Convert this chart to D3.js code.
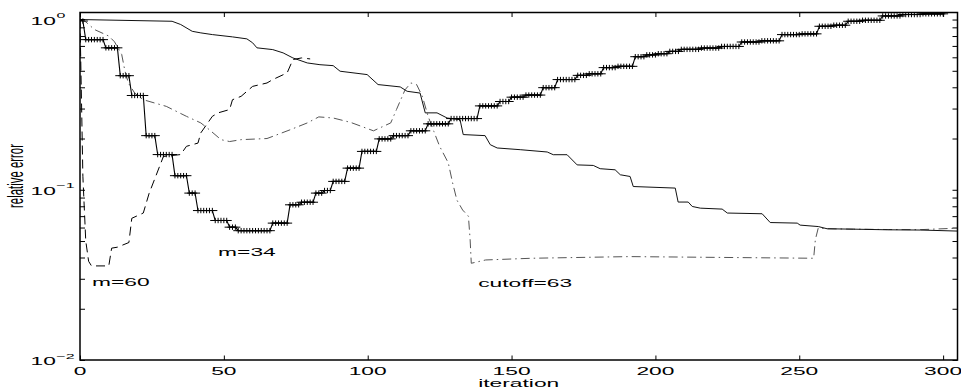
<!DOCTYPE html>
<html>
<head>
<meta charset="utf-8">
<script src="https://d3js.org/d3.v7.min.js"></script>
<style>
  body { margin: 0; background: #fff; }
  text { font-family: "Liberation Sans", Arial, sans-serif; fill: #000; }
  .tick line { stroke: #000; stroke-width: 1; }
</style>
</head>
<body>
<script>

// solid line, no markers
var fullIter = [0, 32, 35, 39, 42, 46, 53, 58, 60, 61.5, 67, 70.6, 74, 79, 83.4, 88, 90.4, 99.8, 103.6, 111.3, 113.7, 118.2, 120, 124.1, 127.6, 132.1, 133.2, 140.8, 142.6, 145, 153, 162.4, 164.5, 169.3, 172.8, 178.4, 180.8, 186, 187.8, 191.2, 192.3, 206.9, 207.9, 211.4, 212.8, 215.6, 223.2, 225, 237.1, 239.9, 249.3, 250.3, 256.6, 259.7, 268.8, 280.6, 292.1, 305];
var fullErr = [1.0, 0.977, 0.935, 0.853, 0.835, 0.816, 0.791, 0.770, 0.730, 0.682, 0.666, 0.637, 0.595, 0.556, 0.543, 0.536, 0.497, 0.475, 0.415, 0.402, 0.379, 0.370, 0.283, 0.283, 0.264, 0.258, 0.211, 0.208, 0.184, 0.176, 0.172, 0.1667, 0.1607, 0.1607, 0.140, 0.139, 0.133, 0.131, 0.1225, 0.1197, 0.1045, 0.1023, 0.0847, 0.0847, 0.0798, 0.078, 0.077, 0.073, 0.0723, 0.0642, 0.0637, 0.062, 0.0608, 0.059, 0.0587, 0.0582, 0.058, 0.0572];

// m=34 line with + markers, given as plateaus (first iteration, value)
var m34Start = [0, 1, 2, 9, 14, 18, 23, 27, 33, 38, 41, 47, 52, 55, 67, 73, 77, 82, 85, 88, 93, 98, 104, 109, 115, 121, 129, 139, 146, 150, 155, 161, 166, 173, 177, 182, 187, 193, 197, 201, 205, 209, 216, 223, 230, 237, 244, 251, 257, 262, 267, 272, 279, 286, 293];
var m34Err = [1.0, 0.98, 0.762, 0.682, 0.468, 0.358, 0.208, 0.161, 0.121, 0.0956, 0.0755, 0.066, 0.0603, 0.0575, 0.0637, 0.0816, 0.0845, 0.0956, 0.099, 0.112, 0.134, 0.168, 0.199, 0.208, 0.222, 0.244, 0.262, 0.311, 0.33, 0.35, 0.36, 0.398, 0.444, 0.47, 0.48, 0.522, 0.531, 0.605, 0.62, 0.63, 0.65, 0.668, 0.68, 0.695, 0.738, 0.75, 0.816, 0.824, 0.913, 0.926, 0.977, 0.99, 1.05, 1.07, 1.08];
var m34Last = 300;

// m=60, dashed
var m60Iter = [0, 1, 2, 3, 4, 10, 11, 13, 17, 18, 22, 24, 29, 35, 37, 41, 42, 46, 48, 52, 53, 56, 60, 65, 67, 72, 74, 77, 80];
var m60Err = [1.0, 0.12, 0.05, 0.038, 0.0357, 0.0357, 0.0454, 0.046, 0.049, 0.068, 0.073, 0.095, 0.157, 0.161, 0.18, 0.188, 0.216, 0.27, 0.283, 0.296, 0.338, 0.354, 0.405, 0.424, 0.444, 0.486, 0.582, 0.595, 0.587];

// cutoff=63, dash-dot
var cutIter = [0, 2, 5, 10, 12, 14.5, 15.6, 16.8, 19, 22, 30, 37, 42, 45, 49, 52, 56, 65, 73, 79, 83, 88, 94, 102, 108, 110, 113, 115, 117, 119, 121, 123, 125, 128, 129.5, 131, 133, 135, 135.6, 136, 141, 157, 191, 255, 255.6, 256.6, 260, 269, 281, 292, 305];
var cutErr = [1.0, 0.97, 0.874, 0.80, 0.74, 0.623, 0.50, 0.424, 0.37, 0.338, 0.309, 0.27, 0.247, 0.225, 0.197, 0.192, 0.197, 0.2, 0.225, 0.247, 0.268, 0.264, 0.249, 0.222, 0.247, 0.296, 0.387, 0.424, 0.415, 0.354, 0.27, 0.22, 0.18, 0.144, 0.11, 0.087, 0.076, 0.07, 0.051, 0.037, 0.0387, 0.0396, 0.0405, 0.0396, 0.051, 0.0596, 0.059, 0.0587, 0.0584, 0.0583, 0.0595];

var xTicks = [0, 50, 100, 150, 200, 250, 300];
var yExps = [-2, -1, 0];

var labels = [
  {text: "m=60", iter: 4.2, err: 0.0272},
  {text: "m=34", iter: 48, err: 0.0411},
  {text: "cutoff=63", iter: 138.4, err: 0.0270}
];

var W = 961, H = 390;
var margin = {top: 12.5, right: 3.5, bottom: 30, left: 80},
    width = W - margin.left - margin.right,
    height = H - margin.top - margin.bottom;

var x = d3.scaleLinear().domain([0, 305]).range([0, width]);
var y = d3.scaleLog().domain([0.01, 1.1]).range([height, 0]);

var svg = d3.select("body").append("svg")
    .attr("width", W)
    .attr("height", H);
svg.append("rect").attr("width", W).attr("height", H).attr("fill", "#fff");

var g = svg.append("g")
    .attr("transform", "translate(" + margin.left + "," + margin.top + ")");

// text is drawn stretched horizontally, like the reference
function sText(parent, px, py, anchor, size) {
  return parent.append("text")
    .attr("transform", "translate(" + px + "," + py + ") scale(2,1)")
    .attr("text-anchor", anchor)
    .style("font-size", size + "px");
}

// ticks (inward)
g.append("g").attr("transform", "translate(0," + height + ")")
  .call(d3.axisBottom(x).tickValues(xTicks).tickSizeInner(-4.5).tickSizeOuter(0).tickFormat(""))
  .select(".domain").remove();
g.append("g")
  .call(d3.axisTop(x).tickValues(xTicks).tickSizeInner(-4.5).tickSizeOuter(0).tickFormat(""))
  .select(".domain").remove();
var yMinor = y.ticks();
g.append("g")
  .call(d3.axisLeft(y).tickValues(yMinor).tickSizeInner(-5).tickSizeOuter(0).tickFormat(""))
  .select(".domain").remove();
g.append("g").attr("transform", "translate(" + width + ",0)")
  .call(d3.axisRight(y).tickValues(yMinor).tickSizeInner(-5).tickSizeOuter(0).tickFormat(""))
  .select(".domain").remove();

// tick labels
xTicks.forEach(function(t) {
  sText(g, x(t), height + 15, "middle", 11.4).text(t);
});
yExps.forEach(function(e) {
  var py = y(Math.pow(10, e));
  sText(g, -49.5, py + 5, "start", 11.4).text("10");
  sText(g, -23.5, py - 1.5, "start", 8).text(e === 0 ? "0" : "\u2212" + (-e));
});

// axis titles
sText(g, width / 2, height + 27, "middle", 11.4).text("iteration");
g.append("text")
  .attr("transform", "translate(" + (23 - margin.left) + "," + (176 - margin.top) + ") scale(2,1) rotate(-90)")
  .attr("text-anchor", "middle")
  .style("font-size", "11.4px")
  .text("relative error");

// curves
var clip = g.append("clipPath").attr("id", "clip");
clip.append("rect").attr("width", width).attr("height", height);
var plot = g.append("g").attr("clip-path", "url(#clip)");

var line = d3.line().x(function(d) { return x(d[0]); }).y(function(d) { return y(d[1]); });

var fullPts = fullIter.map(function(v, i) { return [v, fullErr[i]]; });
var m60Pts = m60Iter.map(function(v, i) { return [v, m60Err[i]]; });
var cutPts = cutIter.map(function(v, i) { return [v, cutErr[i]]; });
var m34Pts = [];
m34Start.forEach(function(s, i) {
  var end = i < m34Start.length - 1 ? m34Start[i + 1] - 1 : m34Last;
  for (var k = s; k <= end; k++) m34Pts.push([k, m34Err[i]]);
});

plot.append("path").datum(cutPts).attr("d", line)
  .attr("fill", "none").attr("stroke", "#555").attr("stroke-width", 1)
  .attr("stroke-dasharray", "9,4,1.5,4");
plot.append("path").datum(fullPts).attr("d", line)
  .attr("fill", "none").attr("stroke", "#111").attr("stroke-width", 1);
plot.append("path").datum(m60Pts).attr("d", line)
  .attr("fill", "none").attr("stroke", "#000").attr("stroke-width", 1)
  .attr("stroke-dasharray", "9,5");
plot.append("path").datum(m34Pts).attr("d", line)
  .attr("fill", "none").attr("stroke", "#000").attr("stroke-width", 1.1);
plot.selectAll(".plus").data(m34Pts).enter().append("path")
  .attr("class", "plus")
  .attr("d", function(d) {
    var cx = x(d[0]), cy = y(d[1]);
    return "M" + (cx - 5) + "," + cy + "H" + (cx + 5) + "M" + cx + "," + (cy - 2.7) + "V" + (cy + 2.7);
  })
  .attr("stroke", "#000").attr("stroke-width", 1).attr("fill", "none");

// annotations
labels.forEach(function(l) {
  sText(g, x(l.iter), y(l.err), "start", 11.4).text(l.text);
});

// frame
g.append("rect").attr("width", width).attr("height", height)
  .attr("fill", "none").attr("stroke", "#000").attr("stroke-width", 1.5);

</script>
</body>
</html>
